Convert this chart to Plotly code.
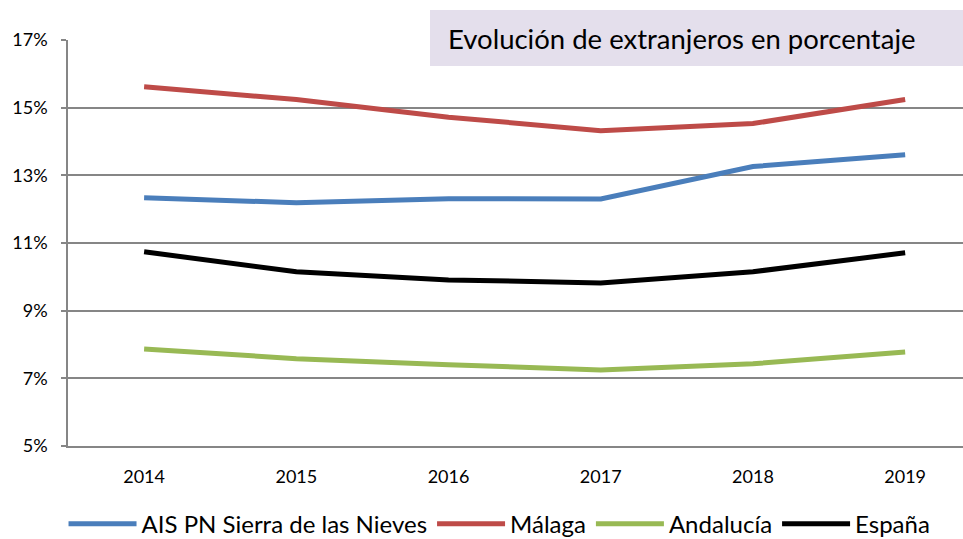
import plotly.graph_objects as go

years = ["2014", "2015", "2016", "2017", "2018", "2019"]
ais = [12.34, 12.19, 12.31, 12.30, 13.26, 13.61]
malaga = [15.62, 15.24, 14.72, 14.32, 14.53, 15.24]
andalucia = [7.87, 7.58, 7.40, 7.25, 7.43, 7.78]
espana = [10.74, 10.15, 9.91, 9.82, 10.15, 10.71]

series_names = ["AIS PN Sierra de las Nieves", "Málaga", "Andalucía", "España"]
series_values = [ais, malaga, andalucia, espana]
series_colors = ["#4A7EBB", "#BE4B48", "#98B954", "#000000"]

y_ticks = [5, 7, 9, 11, 13, 15, 17]
y_tick_labels = ["5%", "7%", "9%", "11%", "13%", "15%", "17%"]

title_text = "Evolución de extranjeros en porcentaje"

FONT = "Lato"

fig = go.Figure()
for name, vals, col in zip(series_names, series_values, series_colors):
    fig.add_trace(go.Scatter(
        x=years, y=vals, name=name, mode="lines",
        line=dict(color=col, width=5),
    ))

W, H = 963, 539
ml, mr, mt, mb = 68, 0, 40, 93
pw = W - ml - mr
ph = H - mt - mb

def px_x(px):
    return (px - ml) / pw

def px_y(py):
    return (H - mb - py) / ph

fig.add_shape(type="rect", xref="paper", yref="paper",
              x0=px_x(430), x1=px_x(970), y0=px_y(66), y1=px_y(10),
              fillcolor="#E4DFEC", line=dict(width=0), layer="above")
fig.add_annotation(text=title_text, xref="paper", yref="paper",
                   x=px_x(446), y=px_y(39), xanchor="left", yanchor="middle",
                   showarrow=False, font=dict(family=FONT, size=27.5, color="#000000"))

fig.update_layout(
    width=W, height=H,
    margin=dict(l=ml, r=mr, t=mt, b=mb, autoexpand=False),
    paper_bgcolor="white", plot_bgcolor="white",
    font=dict(family=FONT, color="#000000"),
    showlegend=True,
    legend=dict(orientation="h", x=-0.005, xanchor="left", y=-0.137, yanchor="top",
                font=dict(family=FONT, size=24, color="#000000"),
                itemwidth=68, tracegroupgap=0),
)
fig.update_xaxes(
    type="category", range=[-0.5, 5.38], automargin=False,
    showgrid=False, showline=True, linecolor="#868686", linewidth=1.5,
    ticks="", tickfont=dict(family=FONT, size=18, color="#000000"),
    ticklabelstandoff=14,
)
fig.update_yaxes(
    range=[5, 17], tickvals=y_ticks, ticktext=y_tick_labels, automargin=False,
    showgrid=True, gridcolor="#868686", gridwidth=1.5,
    showline=True, linecolor="#868686", linewidth=1.5,
    ticks="outside", ticklen=5, tickcolor="#868686", tickwidth=1.5,
    tickfont=dict(family=FONT, size=18, color="#000000"),
    ticklabelstandoff=10, zeroline=False,
)

fig.write_html("out.html",
               config={"displayModeBar": False},
               post_script="document.body.style.margin='0';document.body.style.overflow='hidden';")
